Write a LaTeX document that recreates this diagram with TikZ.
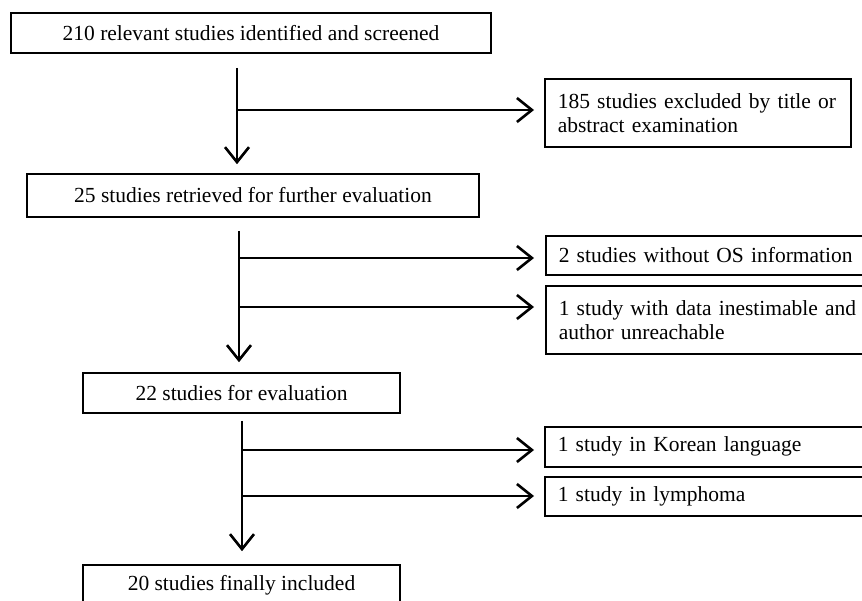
\documentclass[tikz,border=0pt]{standalone}
\usepackage{fontspec}
\setmainfont{Liberation Serif}
\usetikzlibrary{arrows.meta}
\begin{document}
\begin{tikzpicture}[x=1pt,y=-1pt,
  box/.style={draw, line width=1.6pt, inner sep=0pt, font=\fontsize{21.5}{24}\selectfont},
  lbox/.style={box, align=center},
  rbox/.style={box, anchor=north west, inner xsep=13pt, text width=330pt, align=left},
  arr/.style={line width=2.6pt, -{Straight Barb[length=15pt,width=24pt,line width=2.6pt]}}]
\useasboundingbox (0,0) rectangle (862,601);
\clip (0,0) rectangle (862,601);
\fill[white] (0,0) rectangle (862,601);
% left column
\node[lbox, minimum width=480pt, minimum height=40pt] (b1) at (251,33) {210 relevant studies identified and screened};
\node[lbox, minimum width=452pt, minimum height=43pt] (b25) at (253,195.5) {25 studies retrieved for further evaluation};
\node[lbox, minimum width=317pt, minimum height=40pt] (b22) at (241.5,393) {22 studies for evaluation};
\node[lbox, minimum width=317pt, minimum height=40pt] (b20) at (241.5,585) {20 studies finally included};
% right column
\node[rbox, text width=280pt, minimum height=68pt] (b2) at (544,78) {\mbox{185 studies excluded by title or}\\abstract examination};
\node[rbox, minimum height=39pt] (b3) at (545,235) {2 studies without OS information};
\node[rbox, minimum height=68pt] (b4) at (545,285) {1 study with data inestimable and\\author unreachable};
\node[rbox, minimum height=40pt] (b5) at (544,426) {1 study in Korean language};
\node[rbox, minimum height=39pt] (b6) at (544,476) {1 study in lymphoma};
% junctions
\coordinate (j1) at (237,110);
\coordinate (j2a) at (239,258);
\coordinate (j2b) at (239,307);
\coordinate (j3a) at (242,450);
\coordinate (j3b) at (242,496);
% connectors
\draw[arr, shorten <=14pt, shorten >=9pt] (b1.south -| j1) -- (b25.north -| j1);
\draw[arr, shorten >=10pt] (j1) -- (b2.west |- j1);
\draw[arr, shorten <=13pt, shorten >=10pt] (b25.south -| j2a) -- (b22.north -| j2a);
\draw[arr, shorten >=11pt] (j2a) -- (b3.west |- j2a);
\draw[arr, shorten >=11pt] (j2b) -- (b4.west |- j2b);
\draw[arr, shorten <=7pt, shorten >=13pt] (b22.south -| j3a) -- (b20.north -| j3a);
\draw[arr, shorten >=10pt] (j3a) -- (b5.west |- j3a);
\draw[arr, shorten >=10pt] (j3b) -- (b6.west |- j3b);
\end{tikzpicture}
\end{document}
